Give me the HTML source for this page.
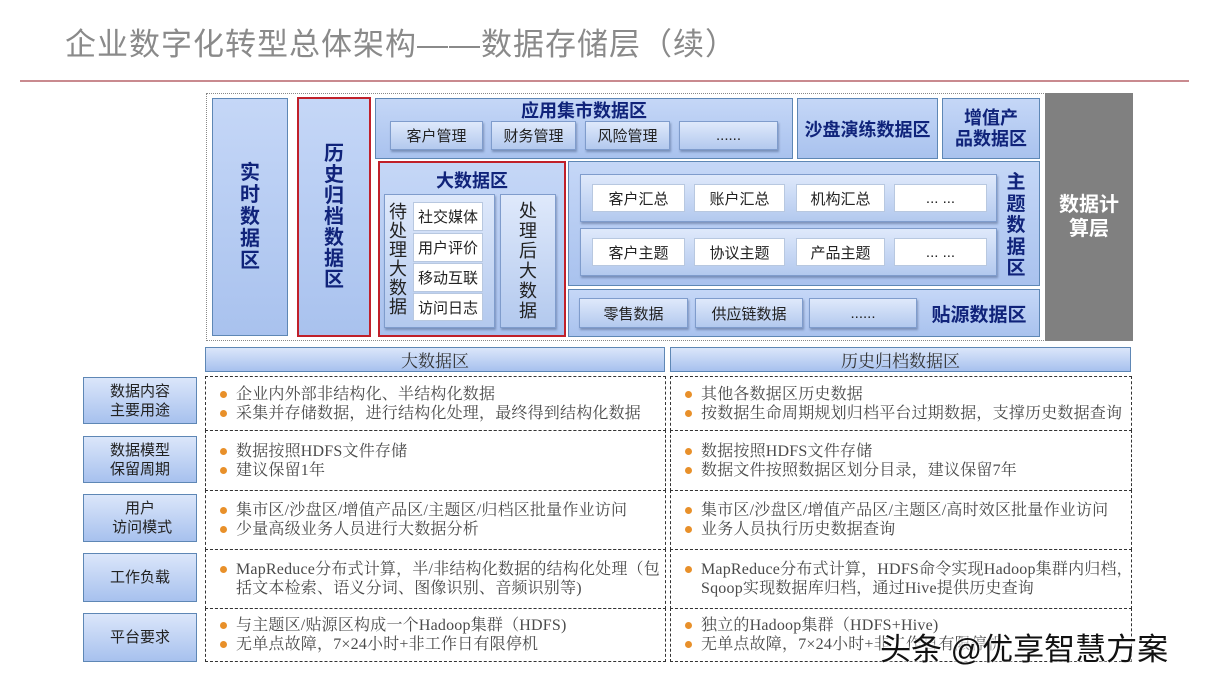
<!DOCTYPE html>
<html><head><meta charset="utf-8"><style>
*{margin:0;padding:0;box-sizing:border-box}
body{width:1209px;height:680px;background:#fff;position:relative;overflow:hidden;font-family:"Liberation Sans","Noto Sans CJK SC",sans-serif}
.a{position:absolute}
.blue{background:linear-gradient(#c5d7f7,#a9c2ee);border:1.5px solid #5e87b5}
.btn{background:linear-gradient(#dfe9fb,#b3c9ee);border:1px solid #7f9ccc;box-shadow:1px 2px 2px rgba(60,80,120,.45);display:flex;align-items:center;justify-content:center;font-size:15px;color:#222}
.wb{background:#fff;border:1px solid #b8c8e0;display:flex;align-items:center;justify-content:center;font-size:15px;color:#222}
.t{font-weight:bold;color:#10237a;display:flex;align-items:center;justify-content:center;text-align:center}
.red{border:2.5px solid #c0202a}
.lab{background:linear-gradient(#dbe6fa,#a7c1ee);border:1.5px solid #5e87b5;display:flex;align-items:center;justify-content:center;text-align:center;font-size:15px;color:#222;line-height:19px}
.hd{background:linear-gradient(#dbe6fa,#a7c1ee);border:1.5px solid #5e87b5;display:flex;align-items:center;justify-content:center;font-size:17px;color:#333;font-family:"Liberation Serif","Noto Serif CJK SC",serif}
.cell{border:1.3px dashed #333;font-family:"Liberation Serif","Noto Serif CJK SC",serif;font-size:16px;color:#4a4a4a;line-height:19px;padding-left:30px;display:flex;flex-direction:column;justify-content:center;letter-spacing:0.2px}
.cell div{position:relative;white-space:nowrap}
.cell .b:before{content:"";position:absolute;left:-16px;top:6px;width:7px;height:7px;border-radius:50%;background:#e8902a}
</style></head><body>
<div class="a" style="left:65px;top:19px;font-size:31px;color:#8a8a8a;letter-spacing:1px">企业数字化转型总体架构——数据存储层（续）</div>
<div class="a" style="left:20px;top:80px;width:1169px;height:2px;background:#c98a8f"></div>

<div class="a" style="left:206px;top:93px;width:840px;height:248px;border:1px dotted #888"></div>
<div class="a t" style="left:1045px;top:93px;width:88px;height:248px;background:#808080;color:#fff;font-size:20px;line-height:24px">数据计<br>算层</div>

<div class="a blue t" style="left:212px;top:98px;width:76px;height:238px;font-size:20px;line-height:22px">实<br>时<br>数<br>据<br>区</div>
<div class="a blue red t" style="left:297px;top:97px;width:74px;height:240px;font-size:20px;line-height:21px">历<br>史<br>归<br>档<br>数<br>据<br>区</div>

<div class="a blue" style="left:375px;top:98px;width:418px;height:61px"></div>
<div class="a t" style="left:375px;top:99px;width:418px;height:22px;font-size:18px">应用集市数据区</div>
<div class="a btn" style="left:390px;top:121px;width:93px;height:29px">客户管理</div>
<div class="a btn" style="left:491px;top:121px;width:85px;height:29px">财务管理</div>
<div class="a btn" style="left:585px;top:121px;width:85px;height:29px">风险管理</div>
<div class="a btn" style="left:679px;top:121px;width:99px;height:29px">......</div>
<div class="a blue t" style="left:797px;top:98px;width:141px;height:61px;font-size:18px">沙盘演练数据区</div>
<div class="a blue t" style="left:942px;top:98px;width:98px;height:61px;font-size:18px;line-height:21px">增值产<br>品数据区</div>

<div class="a blue red" style="left:378px;top:161px;width:188px;height:176px"></div>
<div class="a t" style="left:378px;top:168px;width:188px;height:24px;font-size:18px">大数据区</div>
<div class="a btn" style="left:384px;top:194px;width:111px;height:134px"></div>
<div class="a" style="left:388px;top:203px;width:20px;font-size:18px;line-height:19px;color:#222;text-align:center">待<br>处<br>理<br>大<br>数<br>据</div>
<div class="a wb" style="left:413px;top:202px;width:70px;height:29px">社交媒体</div>
<div class="a wb" style="left:413px;top:233px;width:70px;height:29px">用户评价</div>
<div class="a wb" style="left:413px;top:263px;width:70px;height:29px">移动互联</div>
<div class="a wb" style="left:413px;top:293px;width:70px;height:28px">访问日志</div>
<div class="a btn" style="left:500px;top:194px;width:56px;height:134px;font-size:18px;line-height:20px;text-align:center">处<br>理<br>后<br>大<br>数<br>据</div>

<div class="a blue" style="left:568px;top:161px;width:472px;height:125px"></div>
<div class="a btn" style="left:580px;top:174px;width:417px;height:48px"></div>
<div class="a wb" style="left:592px;top:184px;width:93px;height:28px">客户汇总</div>
<div class="a wb" style="left:694px;top:184px;width:91px;height:28px">账户汇总</div>
<div class="a wb" style="left:796px;top:184px;width:89px;height:28px">机构汇总</div>
<div class="a wb" style="left:894px;top:184px;width:93px;height:28px">... ...</div>
<div class="a btn" style="left:580px;top:228px;width:417px;height:48px"></div>
<div class="a wb" style="left:592px;top:238px;width:93px;height:28px">客户主题</div>
<div class="a wb" style="left:694px;top:238px;width:91px;height:28px">协议主题</div>
<div class="a wb" style="left:796px;top:238px;width:89px;height:28px">产品主题</div>
<div class="a wb" style="left:894px;top:238px;width:93px;height:28px">... ...</div>
<div class="a t" style="left:1004px;top:172px;width:24px;font-size:19px;line-height:21.5px">主<br>题<br>数<br>据<br>区</div>

<div class="a blue" style="left:568px;top:289px;width:472px;height:48px"></div>
<div class="a btn" style="left:579px;top:298px;width:109px;height:30px">零售数据</div>
<div class="a btn" style="left:695px;top:298px;width:108px;height:30px">供应链数据</div>
<div class="a btn" style="left:809px;top:298px;width:108px;height:30px">......</div>
<div class="a t" style="left:925px;top:298px;width:108px;height:30px;font-size:19px">贴源数据区</div>

<div class="a hd" style="left:205px;top:347px;width:460px;height:25px">大数据区</div>
<div class="a hd" style="left:670px;top:347px;width:461px;height:25px">历史归档数据区</div>

<div class="a lab" style="left:83px;top:377px;width:114px;height:47px">数据内容<br>主要用途</div>
<div class="a lab" style="left:83px;top:436px;width:114px;height:47px">数据模型<br>保留周期</div>
<div class="a lab" style="left:83px;top:494px;width:114px;height:48px">用户<br>&nbsp;访问模式</div>
<div class="a lab" style="left:83px;top:553px;width:114px;height:49px">工作负载</div>
<div class="a lab" style="left:83px;top:613px;width:114px;height:49px">平台要求</div>

<div class="a cell" style="left:205px;top:376px;width:461px;height:55px"><div class="b">企业内外部非结构化、半结构化数据</div><div class="b">采集并存储数据，进行结构化处理，最终得到结构化数据</div></div>
<div class="a cell" style="left:205px;top:430px;width:461px;height:61px"><div class="b">数据按照HDFS文件存储</div><div class="b">建议保留1年</div></div>
<div class="a cell" style="left:205px;top:490px;width:461px;height:60px"><div class="b">集市区/沙盘区/增值产品区/主题区/归档区批量作业访问</div><div class="b">少量高级业务人员进行大数据分析</div></div>
<div class="a cell" style="left:205px;top:549px;width:461px;height:60px"><div class="b">MapReduce分布式计算，半/非结构化数据的结构化处理（包</div><div>括文本检索、语义分词、图像识别、音频识别等)</div></div>
<div class="a cell" style="left:205px;top:608px;width:461px;height:54px"><div class="b">与主题区/贴源区构成一个Hadoop集群（HDFS)</div><div class="b">无单点故障，7×24小时+非工作日有限停机</div></div>

<div class="a cell" style="left:670px;top:376px;width:462px;height:55px"><div class="b">其他各数据区历史数据</div><div class="b">按数据生命周期规划归档平台过期数据，支撑历史数据查询</div></div>
<div class="a cell" style="left:670px;top:430px;width:462px;height:61px"><div class="b">数据按照HDFS文件存储</div><div class="b">数据文件按照数据区划分目录，建议保留7年</div></div>
<div class="a cell" style="left:670px;top:490px;width:462px;height:60px"><div class="b">集市区/沙盘区/增值产品区/主题区/高时效区批量作业访问</div><div class="b">业务人员执行历史数据查询</div></div>
<div class="a cell" style="left:670px;top:549px;width:462px;height:60px"><div class="b">MapReduce分布式计算，HDFS命令实现Hadoop集群内归档，</div><div>Sqoop实现数据库归档，通过Hive提供历史查询</div></div>
<div class="a cell" style="left:670px;top:608px;width:462px;height:54px"><div class="b">独立的Hadoop集群（HDFS+Hive)</div><div class="b">无单点故障，7×24小时+非工作日有限停机</div></div>

<div class="a" style="left:880px;top:624px;font-size:31px;color:#111;text-shadow:0 0 3px #fff,0 0 3px #fff,0 0 3px #fff">头条 @优享智慧方案</div>
</body></html>
